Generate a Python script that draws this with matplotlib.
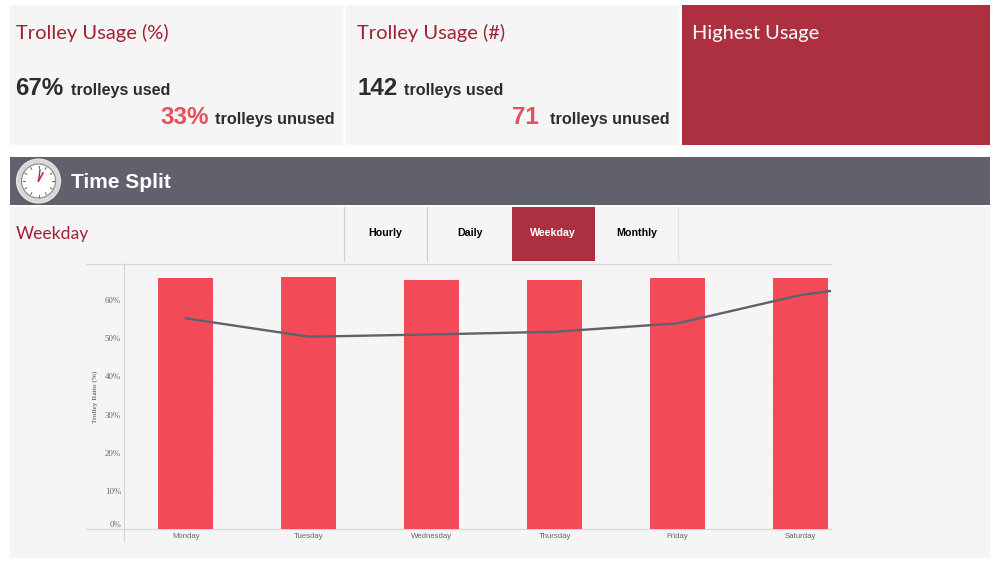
import matplotlib
matplotlib.use("Agg")
import matplotlib.pyplot as plt
from matplotlib.patches import Rectangle, Circle
from matplotlib.transforms import offset_copy
import numpy as np

days = ["Monday", "Tuesday", "Wednesday", "Thursday", "Friday", "Saturday"]
bar_values = [65.7, 66.0, 65.2, 65.2, 65.7, 65.7]
line_values = [55.2, 50.4, 51.0, 51.7, 53.9, 61.3, 65.7]  # last point (Sunday) is clipped by the axes
y_ticks = [0, 10, 20, 30, 40, 50, 60]
tabs = ["Hourly", "Daily", "Weekday", "Monthly"]

W, H = 1000, 563
RED = "#ac3040"
BAR = "#f24b57"
SLATE = "#61616d"
PANEL = "#f5f5f5"
TITLE = "#a32035"
DARK = "#2d2d2d"
ACC = "#e5505a"
TFONT = ["Lato", "DejaVu Sans"]
SANS = ["Liberation Sans", "DejaVu Sans"]
SERIF = ["Liberation Serif", "DejaVu Serif"]

fig = plt.figure(figsize=(W / 100, H / 100), dpi=100, facecolor="white")
bg = fig.add_axes([0, 0, 1, 1], zorder=0)
bg.set_xlim(0, W)
bg.set_ylim(H, 0)
bg.axis("off")


def rect(x0, y0, x1, y1, c, **kw):
    bg.add_patch(Rectangle((x0, y0), x1 - x0, y1 - y0, fc=c, ec="none", **kw))


def txt(x, y, s, size, c, fam=SANS, weight="normal", ha="left", va="baseline"):
    bg.text(x, y, s, fontsize=size, color=c, family=fam, weight=weight, ha=ha, va=va)


# KPI panels
rect(10, 5, 343, 145, PANEL)
rect(346, 5, 679, 145, PANEL)
rect(682, 5, 990, 145, RED)
txt(16, 39.5, "Trolley Usage (%)", 14.5, TITLE, TFONT)
txt(357, 39.5, "Trolley Usage (#)", 14.5, TITLE, TFONT)
txt(692, 39.5, "Highest Usage", 14.4, "white", TFONT)

txt(15.5, 95, "67%", 17.4, DARK, weight="bold")
txt(71, 95, "trolleys used", 11.65, DARK, weight="bold")
txt(160, 124, "33%", 17.4, ACC, weight="bold")
txt(215, 124, "trolleys unused", 11.7, DARK, weight="bold")
txt(357.5, 95, "142", 17.4, DARK, weight="bold")
txt(404, 95, "trolleys used", 11.65, DARK, weight="bold")
txt(512, 124, "71", 17.4, ACC, weight="bold")
txt(550, 124, "trolleys unused", 11.7, DARK, weight="bold")

# Header band
rect(10, 157, 990, 205, SLATE)
txt(71, 188, "Time Split", 15, "white", weight="bold")

# Clock icon
cx, cy = 38.5, 181
bg.add_patch(Circle((cx, cy), 22, fc="#d8d8d8", ec="#e8e8e8", lw=0.8))
bg.add_patch(Circle((cx, cy), 17, fc="white", ec="#8a8a8a", lw=0.8))
for a in np.deg2rad(np.arange(0, 360, 30)):
    bg.plot([cx + 13.5 * np.sin(a), cx + 15.5 * np.sin(a)],
            [cy - 13.5 * np.cos(a), cy - 15.5 * np.cos(a)], color="#666666", lw=0.7)
bg.plot([cx, cx + 1.5], [cy, cy - 11], color="#555555", lw=1)
bg.plot([cx, cx + 4.5], [cy, cy - 8], color="#d81e35", lw=1.2)

# Lower panel and tabs
rect(10, 207, 990, 558, PANEL)
txt(16, 239, "Weekday", 12.6, TITLE, TFONT)
rect(511.5, 207, 595, 261, RED)
for x, c in [(344, "#cfcfcf"), (427, "#cfcfcf"), (677.5, "#e4e4e4")]:
    bg.plot([x, x], [207, 261], color=c, lw=0.9)
for x, s in zip([385.5, 469.5, 552.5, 636.5], tabs):
    txt(x, 232.5, s, 7.7, "white" if s == "Weekday" else "black",
        weight="bold", ha="center", va="center")

# Frame lines extending left of the plot
bg.plot([86, 831], [264, 264], color="#d6d6d6", lw=0.9)
bg.plot([86, 831], [529, 529], color="#d6d6d6", lw=0.9)
bg.plot([124, 124], [264, 541], color="#d6d6d6", lw=0.9)

# Chart
left, right, top, bottom = 124.5, 831, 264.5, 529.3
ax = fig.add_axes([left / W, 1 - bottom / H, (right - left) / W, (bottom - top) / H],
                  zorder=1, facecolor="none")
ax.set_xlim(-0.5, 5.248)
ax.set_ylim(0, 69.3)
for s in ax.spines.values():
    s.set_visible(False)
ax.set_axisbelow(True)
ax.yaxis.grid(True, color="#f1f1f1", lw=0.7)
ax.bar(range(len(days)), bar_values, width=0.447, color=BAR, zorder=2)
ax.plot(range(len(line_values)), line_values, color=SLATE, lw=1.7, zorder=3,
        solid_joinstyle="round")
ax.set_xticks(range(len(days)))
ax.set_xticklabels(days, fontsize=5.6, color="#666666", family=SANS)
ax.set_yticks(y_ticks)
ax.set_yticklabels([f"{v}%" for v in y_ticks], fontsize=6.4, color="#666666", family=SERIF)
ax.tick_params(axis="both", length=0)
ax.tick_params(axis="x", pad=2.5)
ax.tick_params(axis="y", pad=2.5)
ax.get_yticklabels()[0].set_transform(
    offset_copy(ax.get_yticklabels()[0].get_transform(), fig=fig, x=0, y=3.6, units="points"))
bg.text(95, 397, "Trolley Ratio (%)", fontsize=5.3, color="#444444", family=SERIF,
        rotation=90, ha="center", va="center")

fig.savefig("out.png", dpi=100, facecolor="white")
